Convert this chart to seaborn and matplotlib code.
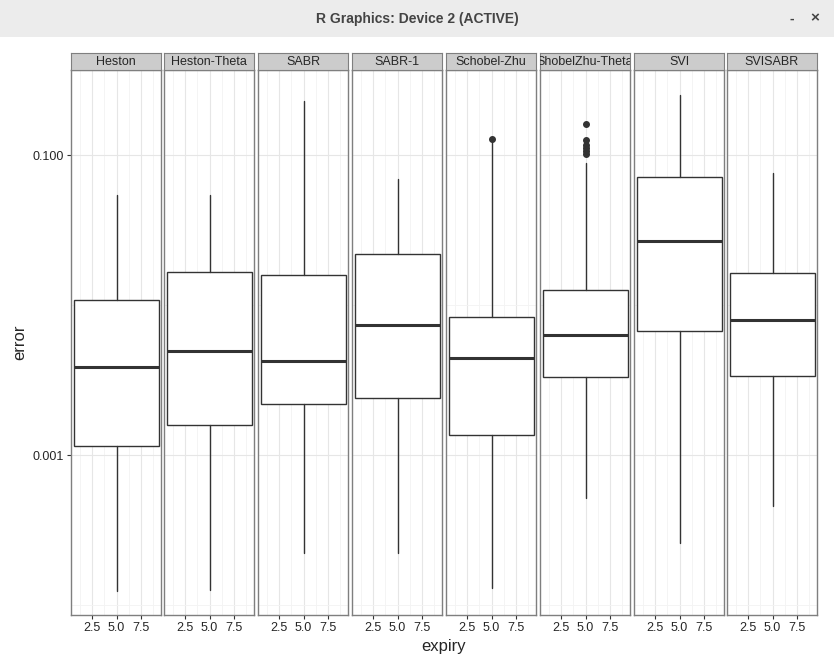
import seaborn as sns
import matplotlib.pyplot as plt
from matplotlib.ticker import FixedLocator, NullFormatter
import numpy as np

sns.set_style("white")
plt.rcParams['font.family'] = ['Liberation Sans', 'DejaVu Sans']

# box summaries (error, log scale)
models = ['Heston', 'Heston-Theta', 'SABR', 'SABR-1', 'Schobel-Zhu',
          'ShobelZhu-Theta', 'SVI', 'SVISABR']
whislo = [0.000124, 0.000126, 0.000222, 0.000222, 0.000131, 0.000517, 0.000259, 0.000457]
q1 = [0.00115, 0.00158, 0.00219, 0.0024, 0.00136, 0.0033, 0.0067, 0.00336]
med = [0.00386, 0.00494, 0.00424, 0.00736, 0.00443, 0.0063, 0.0267, 0.00794]
q3 = [0.0108, 0.0166, 0.0158, 0.0219, 0.0083, 0.0126, 0.0713, 0.0163]
whishi = [0.054, 0.054, 0.229, 0.0692, 0.124, 0.0885, 0.251, 0.0759]
fliers = [[], [], [], [], [0.128], [0.160, 0.126, 0.117, 0.112, 0.106, 0.1015], [], []]
expiry_ticks = [2.5, 5.0, 7.5]

W, H = 834, 664
fig = plt.figure(figsize=(W / 100, H / 100), dpi=100)

# window title bar
bar = fig.add_axes([0, 1 - 37 / H, 1, 37 / H])
bar.set_facecolor('#ececec')
bar.set_xticks([]); bar.set_yticks([])
for s in bar.spines.values():
    s.set_visible(False)
bar.text(0.5, 0.5, 'R Graphics: Device 2 (ACTIVE)', ha='center', va='center',
         fontsize=10, fontweight='bold', color='#444444', transform=bar.transAxes)
bar.text(792 / W, 0.5, '-', ha='center', va='center', fontsize=10, fontweight='bold', color='#444444', transform=bar.transAxes)
bar.text(815 / W, 0.5, '×', ha='center', va='center', fontsize=11, fontweight='bold', color='#444444', transform=bar.transAxes)

lefts = [71, 164, 258, 352, 446, 540, 634, 727]
pw = 90
top, bottom = 70, 615
for i, m in enumerate(models):
    x0 = lefts[i]
    ax = fig.add_axes([x0 / W, 1 - bottom / H, pw / W, (bottom - top) / H])
    ax.set_yscale('log')
    stats = [dict(med=med[i], q1=q1[i], q3=q3[i], whislo=whislo[i], whishi=whishi[i], fliers=fliers[i])]
    ax.bxp(stats, positions=[5.0], widths=8.75, showcaps=False, patch_artist=True, manage_ticks=False,
           boxprops=dict(facecolor='white', edgecolor='#333333', lw=1),
           medianprops=dict(color='#333333', lw=2.2),
           whiskerprops=dict(color='#333333', lw=1),
           flierprops=dict(marker='o', markerfacecolor='#333333', markeredgecolor='#333333', markersize=4))
    ax.set_ylim(8.6e-5, 0.369)
    ax.set_xlim(0.32, 9.57)
    ax.xaxis.set_major_locator(FixedLocator(expiry_ticks))
    ax.xaxis.set_minor_locator(FixedLocator([1.25, 3.75, 6.25, 8.75]))
    ax.set_xticklabels(['2.5', '5.0', '7.5'], fontsize=9)
    ax.yaxis.set_major_locator(FixedLocator([0.001, 0.1]))
    ax.yaxis.set_minor_locator(FixedLocator([0.0001, 0.01]))
    ax.yaxis.set_minor_formatter(NullFormatter())
    if i == 0:
        ax.set_yticklabels(['0.001', '0.100'], fontsize=9)
        ax.set_ylabel('error', fontsize=12)
    else:
        ax.set_yticklabels([])
    ax.grid(True, which='major', color='#e6e6e6', lw=0.8)
    ax.grid(True, which='minor', color='#f3f3f3', lw=0.6)
    ax.set_axisbelow(True)
    ax.tick_params(axis='both', which='major', length=3, color='#333333', direction='out', pad=2,
                   bottom=True, left=(i == 0))
    ax.tick_params(which='minor', length=0)
    for s in ax.spines.values():
        s.set_color('#7f7f7f'); s.set_linewidth(1)
    # strip
    st = fig.add_axes([x0 / W, 1 - 70 / H, pw / W, 17 / H])
    st.set_facecolor('#cccccc')
    st.set_xticks([]); st.set_yticks([])
    for s in st.spines.values():
        s.set_color('#7f7f7f')
    st.text(0.5, 0.45, m, ha='center', va='center', fontsize=9, transform=st.transAxes, clip_on=True)

fig.text(444 / W, 1 - 647 / H, 'expiry', ha='center', va='center', fontsize=12)
fig.savefig('out.png', dpi=100)
